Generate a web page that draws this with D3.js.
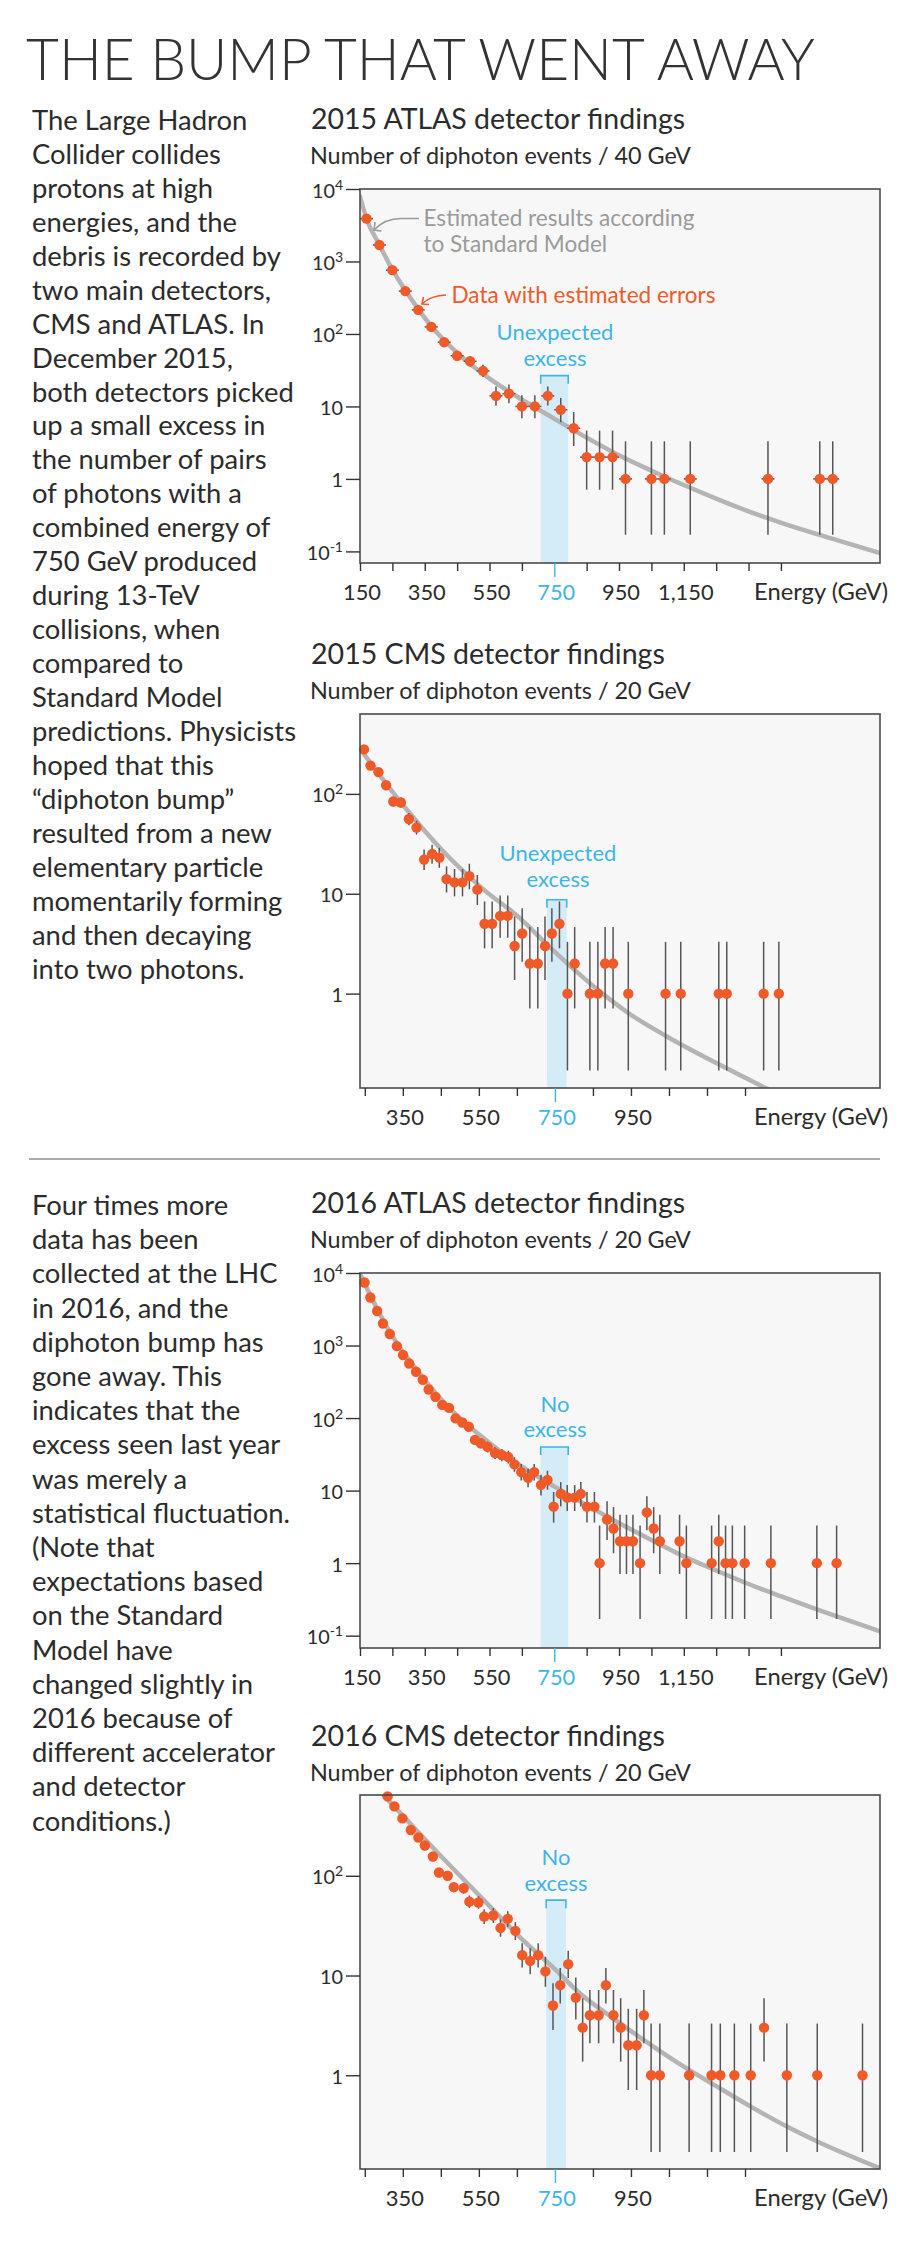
<!DOCTYPE html>
<html>
<head>
<meta charset="utf-8">
<script src="https://cdn.jsdelivr.net/npm/d3@7"></script>
<style>
  body { margin: 0; background: #ffffff; }
  svg { display: block; }
  text { font-family: Lato, "Noto Sans", sans-serif; }
  text.headline { font-family: "Lato Light", Lato, "Noto Sans", sans-serif; font-weight: 300; }
</style>
</head>
<body>
<div id="chart"></div>
<script>
// ---------------- DATA ----------------
// Left-column text
const introLines = ["The Large Hadron","Collider collides","protons at high","energies, and the","debris is recorded by","two main detectors,","CMS and ATLAS. In","December 2015,","both detectors picked","up a small excess in","the number of pairs","of photons with a","combined energy of","750 GeV produced","during 13-TeV","collisions, when","compared to","Standard Model","predictions. Physicists","hoped that this","\u201Cdiphoton bump\u201D","resulted from a new","elementary particle","momentarily forming","and then decaying","into two photons."];
const updateLines = ["Four times more","data has been","collected at the LHC","in 2016, and the","diphoton bump has","gone away. This","indicates that the","excess seen last year","was merely a","statistical fluctuation.","(Note that","expectations based","on the Standard","Model have","changed slightly in","2016 because of","different accelerator","and detector","conditions.)"];

// Axis ticks
const atlasXTicks = [150,250,350,450,550,650,750,850,950,1050,1150,1250,1350,1450];
const atlasXLabelValues = [150,350,550,750,950,1150];
const atlasXLabels = ["150","350","550","750","950","1,150"];
const cmsXTicks = [250,350,450,550,650,750,850,950,1050,1150,1250];
const cmsXLabelValues = [350,550,750,950];
const cmsXLabels = ["350","550","750","950"];
const wideYTicks = [10000,1000,100,10,1,0.1];
const wideYBase = ["10","10","10","10","1","10"];
const wideYSup = ["4","3","2","","","-1"];
const narrowYTicks = [100,10,1];
const narrowYBase = ["10","10","1"];
const narrowYSup = ["2","",""];

// 2015 ATLAS (40 GeV bins)
const atlas15Energy = [170,210,250,290,330,370,410,450,490,530,570,610,650,690,730,770,810,850,890,930,970,1050,1090,1170,1410,1570,1610];
const atlas15Events = [3900,1690,760,390,215,125,77,50,42,31,14,15,10,10,14,9,5,2,2,2,1,1,1,1,1,1,1];
const atlas15Low    = [3838,1649,732,370,200,114,68.3,42.9,35.6,25.4,10.3,11.1,6.89,6.89,10.3,6.06,2.84,0.71,0.71,0.71,0.17,0.17,0.17,0.17,0.17,0.17,0.17];
const atlas15High   = [3962,1731,788,410,230,136,86.8,58.1,49.5,37.6,18.8,20.0,14.3,14.3,18.8,13.1,8.38,4.64,4.64,4.64,3.30,3.30,3.30,3.30,3.30,3.30,3.30];
const atlas15ModelEnergy = [150,170,210,250,290,330,370,450,546,648,747,846,948,1047,1148,1248,1348,1449,1608,1756];
const atlas15ModelEvents = [7900,3900,1700,770,400,220,128,55,25,12.6,6.9,3.8,2.14,1.32,0.83,0.54,0.36,0.25,0.15,0.095];

// 2015 CMS (20 GeV bins)
const cms15Energy = [248,265,286,306,325,345,366,386,406,427,446,465,486,507,525,546,565,585,606,626,644,664,684,705,724,742,762,783,802,842,863,882,903,943,1041,1081,1181,1202,1299,1339];
const cms15Events = [279,192,165,122,84,82,56,46,22,25,23,14,13,13,15,11,5,5,6,6,3,4,2,2,3,4,5,1,2,1,1,2,2,1,1,1,1,1,1,1];
const cms15Low    = [262,178,152,111,74.9,72.9,48.5,39.2,17.3,20.0,18.2,10.3,9.42,9.42,11.1,7.72,2.84,2.84,3.62,3.62,1.37,2.09,0.71,0.71,1.37,2.09,2.84,0.17,0.71,0.17,0.17,0.71,0.71,0.17,0.17,0.17,0.17,0.17,0.17,0.17];
const cms15High   = [296,206,178,133,94.2,92.1,64.5,53.8,27.7,31.0,28.8,18.8,17.7,17.7,20.0,15.4,8.38,8.38,9.58,9.58,5.92,7.16,4.64,4.64,5.92,7.16,8.38,3.30,4.64,3.30,3.30,4.64,4.64,3.30,3.30,3.30,3.30,3.30,3.30,3.30];
const cms15ModelEnergy = [237,350,453,558,660,722,800,862,943,1042,1082,1181,1307,1340];
const cms15ModelEvents = [284,77.8,27.4,11.4,5.6,3.3,1.75,1.1,0.64,0.377,0.31,0.196,0.112,0.097];

// 2016 ATLAS (20 GeV bins)
const atlas16Energy = [164,182,203,221,242,264,283,302,323,344,362,383,404,425,445,466,486,505,523,544,567,588,608,627,648,669,688,709,729,748,770,790,813,832,851,874,890,913,933,953,973,993,1015,1036,1057,1076,1137,1158,1236,1258,1279,1300,1338,1419,1561,1622];
const atlas16Events = [7400,4600,2990,2010,1440,980,740,565,435,338,248,196,152,138,99,87,76,50,45,40,33,31,29,23,18,15,18,12,14,6,9,8,8,9,6,6,1,4,3,2,2,2,1,5,3,2,2,1,1,2,1,1,1,1,1,1];
const atlas16Low    = [7314,4532,2935,1965,1402,949,713,541,414,320,232,182,140,126,89,77.7,67.3,42.9,38.3,33.7,27.3,25.4,23.6,18.2,13.8,11.1,13.8,8.57,10.3,3.62,6.06,5.23,5.23,6.06,3.62,3.62,0.17,2.09,1.37,0.71,0.71,0.71,0.17,2.84,1.37,0.71,0.71,0.17,0.17,0.71,0.17,0.17,0.17,0.17,0.17,0.17];
const atlas16High   = [7486,4668,3045,2055,1478,1012,768,589,456,357,264,210,165,150,110,97.4,85.7,58.1,52.7,47.3,39.7,37.6,35.4,28.8,23.3,20.0,23.3,16.6,18.8,9.58,13.1,11.9,11.9,13.1,9.58,9.58,3.30,7.16,5.92,4.64,4.64,4.64,3.30,8.38,5.92,4.64,4.64,3.30,3.30,4.64,3.30,3.30,3.30,3.30,3.30,3.30];
const atlas16ModelEnergy = [150,242,344,445,546,648,747,846,948,1047,1148,1248,1348,1449,1561,1756];
const atlas16ModelEvents = [9700,1540,362,113,46.9,21.8,11.6,6.46,3.61,2.12,1.25,0.80,0.52,0.35,0.23,0.115];

// 2016 CMS (20 GeV bins)
const cms16Energy = [310,328,349,371,391,408,429,445,468,484,510,525,549,564,588,607,626,646,664,685,706,725,745,764,785,805,823,842,865,884,904,923,943,965,984,1003,1026,1103,1162,1185,1222,1265,1300,1360,1440,1559];
const cms16Events = [625,496,376,288,242,201,156,108,100,77,75,55,54,39,40,30,37,28,16,14,16,11,5,8,13,6,3,4,4,8,4,3,2,2,4,1,1,1,1,1,1,1,3,1,1,1];
const cms16Low    = [600,474,357,271,227,187,144,98,90,68.2,66.4,47.6,46.7,32.8,33.7,24.5,30.9,22.7,12.0,10.3,12.0,7.72,2.84,5.23,9.42,3.62,1.37,2.09,2.09,5.23,2.09,1.37,0.71,0.71,2.09,0.17,0.17,0.17,0.17,0.17,0.17,0.17,1.37,0.17,0.17,0.17];
const cms16High   = [650,518,395,305,258,215,169,119,111,86.8,84.7,63.4,62.4,46.2,47.3,36.5,44.1,34.3,21.1,18.8,21.1,15.4,8.38,11.9,17.7,9.58,5.92,7.16,7.16,11.9,7.16,5.92,4.64,4.64,7.16,3.30,3.30,3.30,3.30,3.30,3.30,3.30,5.92,3.30,3.30,3.30];
const cms16ModelEnergy = [299,350,457,558,659,750,816,900,984,1103,1162,1265,1360,1440,1605];
const cms16ModelEvents = [646,401,148,59.7,24,11.6,6.6,3.8,2.25,1.13,0.83,0.485,0.306,0.217,0.117];

// ---------------- STYLE ----------------
const INK = "#2b2b2b", RED = "#f05a28", BLUE = "#3db5e6", BAND = "#d4ecf7",
      MODEL = "#b4b4b4", PANEL = "#f7f7f7", ERR = "#555555", NOTE_GRAY = "#9a9a9a";
const PLOT_L = 360, PLOT_R = 880;

const svg = d3.select("#chart").append("svg").attr("width", 900).attr("height", 2244);
svg.append("rect").attr("width", 900).attr("height", 2244).attr("fill", "#fff");

function fitWidth(sel, target) {
  const len = sel.node().getComputedTextLength();
  const fs = parseFloat(sel.attr("font-size"));
  if (len > 0) sel.attr("font-size", (fs * target / len).toFixed(2));
  return sel;
}
function fittedSize(str, base, target) {
  const p = svg.append("text").attr("font-size", base).text(str);
  fitWidth(p, target);
  const fs = p.attr("font-size");
  p.remove();
  return fs;
}
const TICK_FS = fittedSize("150", 22, 38);
const YLAB_FS = fittedSize("10", 22, 23);
const ENERGY_FS = fittedSize("Energy (GeV)", 22, 134);

// Main title
fitWidth(svg.append("text").attr("class", "headline").attr("x", 26).attr("y", 80).attr("font-size", 66)
  .attr("fill", "#333").text("THE BUMP THAT WENT AWAY"), 789);

// Paragraphs
const BODY_FS = fittedSize("debris is recorded by", 24, 249);
function paragraph(lines, x, y0, lh) {
  const g = svg.append("g");
  lines.forEach((t, i) => g.append("text").attr("x", x).attr("y", y0 + i * lh)
    .attr("font-size", BODY_FS).attr("fill", INK).text(t));
}
paragraph(introLines, 32, 130, 33.94);
paragraph(updateLines, 32, 1215, 34.2);

// Separator
svg.append("line").attr("x1", 29).attr("x2", 880).attr("y1", 1159).attr("y2", 1159)
  .attr("stroke", "#8c8c8c").attr("stroke-width", 1.5);

function chart(c) {
  const g = svg.append("g");
  const x = d3.scaleLinear().domain(c.xDomain).range([PLOT_L, PLOT_R]);
  const y = d3.scaleLog().domain(c.yDomain).range([c.bottom, c.top]);

  fitWidth(g.append("text").attr("x", 311).attr("y", c.titleY).attr("font-size", 26)
    .attr("fill", INK).text(c.title), c.titleW);
  fitWidth(g.append("text").attr("x", 310).attr("y", c.titleY + 34.5).attr("font-size", 22)
    .attr("fill", INK).text(c.subtitle), 381);

  g.append("rect").attr("x", PLOT_L).attr("y", c.top).attr("width", PLOT_R - PLOT_L)
    .attr("height", c.bottom - c.top).attr("fill", PANEL);

  // excess band + bracket
  const by = y(c.bandTop), bx0 = x(c.band[0]), bx1 = x(c.band[1]);
  g.append("rect").attr("x", bx0).attr("y", by).attr("width", bx1 - bx0)
    .attr("height", c.bottom - by).attr("fill", BAND);
  g.append("path").attr("d", `M${bx0},${by + 8}V${by}H${bx1}V${by + 8}`)
    .attr("fill", "none").attr("stroke", BLUE).attr("stroke-width", 1.6);
  c.note.forEach((t, i) => g.append("text").attr("x", c.noteX).attr("y", c.noteY[i])
    .attr("text-anchor", "middle").attr("font-size", 22).attr("fill", BLUE).text(t));

  // model curve
  const clipId = "clip-" + c.id;
  svg.append("clipPath").attr("id", clipId).append("rect")
    .attr("x", PLOT_L).attr("y", c.top).attr("width", PLOT_R - PLOT_L).attr("height", c.bottom - c.top);
  const pts = c.modelE.map((e, i) => [x(e), y(c.modelV[i])]);
  g.append("path").attr("clip-path", `url(#${clipId})`)
    .attr("d", d3.line().curve(d3.curveMonotoneX)(pts))
    .attr("fill", "none").attr("stroke", MODEL).attr("stroke-width", 4.5).attr("stroke-linecap", "round");

  // error bars
  const eb = g.append("g").attr("stroke", ERR).attr("stroke-width", 1.5);
  c.energy.forEach((e, i) => {
    eb.append("line").attr("x1", x(e)).attr("x2", x(e))
      .attr("y1", Math.min(y(c.low[i]), c.bottom)).attr("y2", Math.max(y(c.high[i]), c.top));
    if (c.binHalf) eb.append("line").attr("x1", x(e - c.binHalf)).attr("x2", x(e + c.binHalf))
      .attr("y1", y(c.events[i])).attr("y2", y(c.events[i]));
  });
  // data dots
  g.append("g").selectAll("circle").data(c.energy).join("circle")
    .attr("cx", d => x(d)).attr("cy", (d, i) => y(c.events[i])).attr("r", 5.2).attr("fill", RED);

  // frame
  g.append("rect").attr("x", PLOT_L).attr("y", c.top).attr("width", PLOT_R - PLOT_L)
    .attr("height", c.bottom - c.top).attr("fill", "none").attr("stroke", "#4a4a4a").attr("stroke-width", 1.6);

  // x axis ticks
  const xa = g.append("g").attr("transform", `translate(0,${c.bottom})`)
    .call(d3.axisBottom(x).tickValues(c.xTicks).tickSize(8).tickFormat(""));
  xa.select(".domain").remove();
  xa.selectAll(".tick line").attr("stroke", "#333").attr("stroke-width", 1.4)
    .filter(d => d === 750).attr("stroke", BLUE).attr("y2", 14);
  c.xLabelValues.forEach((v, i) => g.append("text").attr("x", x(v) + 2).attr("y", c.bottom + 37)
    .attr("text-anchor", "middle").attr("font-size", TICK_FS).attr("fill", v === 750 ? BLUE : INK).text(c.xLabels[i]));
  g.append("text").attr("x", 888).attr("y", c.bottom + 37).attr("text-anchor", "end")
    .attr("font-size", ENERGY_FS).attr("fill", INK).text("Energy (GeV)");

  // y axis ticks
  const ya = g.append("g").attr("transform", `translate(${PLOT_L},0)`)
    .call(d3.axisLeft(y).tickValues(c.yTicks).tickSize(14).tickFormat(""));
  ya.select(".domain").remove();
  ya.selectAll(".tick line").attr("stroke", "#333").attr("stroke-width", 1.4);
  c.yTicks.forEach((v, i) => {
    const t = g.append("text").attr("x", 343).attr("y", y(v) + 8.5).attr("text-anchor", "end")
      .attr("font-size", YLAB_FS).attr("fill", INK);
    t.append("tspan").text(c.yBase[i]);
    if (c.ySup[i]) t.append("tspan").attr("font-size", 14).attr("dy", -8).text(c.ySup[i]);
  });
  return { x, y, g };
}

const c1 = chart({
  id: "a15", title: "2015 ATLAS detector findings", titleW: 374,
  subtitle: "Number of diphoton events / 40 GeV", titleY: 129, top: 189, bottom: 563,
  xDomain: [150, 1756], yDomain: [Math.pow(10, -1.16), 1e4],
  xTicks: atlasXTicks, xLabelValues: atlasXLabelValues, xLabels: atlasXLabels,
  yTicks: wideYTicks, yBase: wideYBase, ySup: wideYSup,
  energy: atlas15Energy, events: atlas15Events, low: atlas15Low, high: atlas15High,
  modelE: atlas15ModelEnergy, modelV: atlas15ModelEvents,
  band: [708, 793], bandTop: 26.6, note: ["Unexpected", "excess"], noteY: [340, 366], noteX: 555, binHalf: 20
});
chart({
  id: "c15", title: "2015 CMS detector findings", titleW: 354,
  subtitle: "Number of diphoton events / 20 GeV", titleY: 664, top: 714, bottom: 1088,
  xDomain: [237.4, 1605], yDomain: [Math.pow(10, -0.945), Math.pow(10, 2.80)],
  xTicks: cmsXTicks, xLabelValues: cmsXLabelValues, xLabels: cmsXLabels,
  yTicks: narrowYTicks, yBase: narrowYBase, ySup: narrowYSup,
  energy: cms15Energy, events: cms15Events, low: cms15Low, high: cms15High,
  modelE: cms15ModelEnergy, modelV: cms15ModelEvents,
  band: [729, 781], bandTop: 8.7, note: ["Unexpected", "excess"], noteY: [861, 887], noteX: 558
});
chart({
  id: "a16", title: "2016 ATLAS detector findings", titleW: 374,
  subtitle: "Number of diphoton events / 20 GeV", titleY: 1213, top: 1273, bottom: 1648,
  xDomain: [150, 1756], yDomain: [Math.pow(10, -1.17), 1e4],
  xTicks: atlasXTicks, xLabelValues: atlasXLabelValues, xLabels: atlasXLabels,
  yTicks: wideYTicks, yBase: wideYBase, ySup: wideYSup,
  energy: atlas16Energy, events: atlas16Events, low: atlas16Low, high: atlas16High,
  modelE: atlas16ModelEnergy, modelV: atlas16ModelEvents,
  band: [708, 793], bandTop: 40, note: ["No", "excess"], noteY: [1412, 1437], noteX: 555
});
chart({
  id: "c16", title: "2016 CMS detector findings", titleW: 354,
  subtitle: "Number of diphoton events / 20 GeV", titleY: 1746, top: 1795, bottom: 2169,
  xDomain: [237.4, 1605], yDomain: [Math.pow(10, -0.94), Math.pow(10, 2.81)],
  xTicks: cmsXTicks, xLabelValues: cmsXLabelValues, xLabels: cmsXLabels,
  yTicks: narrowYTicks, yBase: narrowYBase, ySup: narrowYSup,
  energy: cms16Energy, events: cms16Events, low: cms16Low, high: cms16High,
  modelE: cms16ModelEnergy, modelV: cms16ModelEvents,
  band: [727, 779], bandTop: 57, note: ["No", "excess"], noteY: [1865, 1891], noteX: 556
});

// Chart 1 callouts
const n1 = c1.g.append("g");
const NOTE_FS = fittedSize("Estimated results according", 22, 271);
n1.append("text").attr("x", 423.5).attr("y", 226).attr("font-size", NOTE_FS)
  .attr("fill", NOTE_GRAY).text("Estimated results according");
n1.append("text").attr("x", 423.5).attr("y", 252).attr("font-size", NOTE_FS)
  .attr("fill", NOTE_GRAY).text("to Standard Model");
n1.append("path").attr("d", "M419,218.5 L401,218.5 Q385,218.5 374.5,229.5")
  .attr("fill", "none").attr("stroke", NOTE_GRAY).attr("stroke-width", 1.6);
n1.append("path").attr("d", "M375,222 L374,230 L381.5,231")
  .attr("fill", "none").attr("stroke", NOTE_GRAY).attr("stroke-width", 1.6);
fitWidth(n1.append("text").attr("x", 451.5).attr("y", 303).attr("font-size", 22)
  .attr("fill", RED).text("Data with estimated errors"), 264);
n1.append("path").attr("d", "M446,295 Q431,295.5 422.5,303.5")
  .attr("fill", "none").attr("stroke", RED).attr("stroke-width", 1.6);
n1.append("path").attr("d", "M423.5,297 L422,304 L429,304.5")
  .attr("fill", "none").attr("stroke", RED).attr("stroke-width", 1.6);
</script>
</body>
</html>
